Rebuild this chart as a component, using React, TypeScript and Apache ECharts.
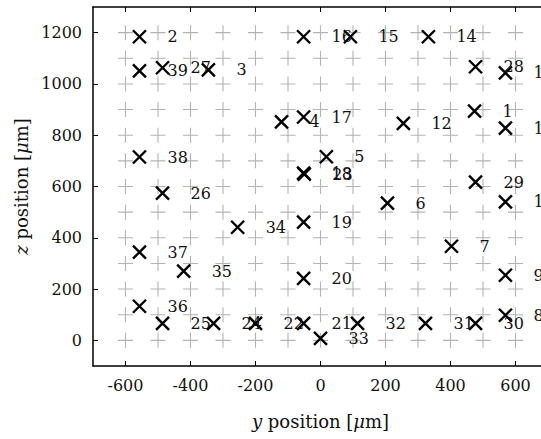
import React, { useEffect, useRef } from "react";
import * as echarts from "echarts";

// Reference lattice of the probe (grey "+" marks), in µm
const latticeY = [-600, -500, -400, -300, -200, -100, 0, 100, 200, 300, 400, 500, 600];
const latticeZ = [0, 100, 200, 300, 400, 500, 600, 700, 800, 900, 1000, 1100, 1200];

// Recording sites: id, y position and z position (µm)
const siteIds = [
  1, 2, 3, 4, 5, 6, 7, 8, 9, 10, 11, 12, 13, 14, 15, 16, 17, 18, 19, 20,
  21, 22, 23, 24, 25, 26, 27, 28, 29, 30, 31, 32, 33, 34, 35, 36, 37, 38, 39,
];
const siteY = [
  474, -557, -345, -120, 18, 206, 403, 569, 569, 569, 569, 255, 569, 332, 92, -52, -52, -52, -52, -52,
  -52, -200, -50, -329, -486, -486, -486, 477, 477, 477, 323, 114, 0, -255, -421, -557, -557, -557, -557,
];
const siteZ = [
  894, 1184, 1055, 852, 716, 535, 367, 98, 254, 540, 828, 846, 1043, 1184, 1184, 1184, 871, 652, 461, 242,
  66, 66, 648, 66, 66, 574, 1063, 1067, 617, 66, 66, 66, 8, 441, 270, 133, 344, 715, 1051,
];

const yTicks = [-600, -400, -200, 0, 200, 400, 600];
const zTicks = [0, 200, 400, 600, 800, 1000, 1200];

const FONT = "DejaVu Serif";
const INK = "#111";

export default function App() {
  const ref = useRef<HTMLDivElement>(null);

  useEffect(() => {
    if (!ref.current) return;
    const chart = echarts.init(ref.current, undefined, { renderer: "svg" });

    const lattice: number[][] = [];
    for (const y of latticeY) for (const z of latticeZ) lattice.push([y, z]);

    const sites = siteIds.map((id, i) => [siteY[i], siteZ[i], id]);

    const axisLine = { show: true, onZero: false, lineStyle: { color: "#000", width: 1.5 } };
    const tickStyle = { color: "#000", width: 1 };
    const nameStyle = {
      fontFamily: FONT,
      fontSize: 18,
      color: INK,
      rich: {
        i: { fontFamily: FONT, fontSize: 18, fontStyle: "italic", color: INK },
      },
    };
    const labelStyle = { fontFamily: FONT, fontSize: 16, color: INK };
    const plain = (v: number) => String(v);

    chart.setOption({
      animation: false,
      backgroundColor: "#fff",
      grid: {
        left: 93,
        top: 7,
        width: 455,
        height: 359,
        containLabel: false,
        outerBoundsMode: "none",
      },
      xAxis: [
        {
          type: "value",
          position: "bottom",
          min: -700,
          max: 700,
          axisLine,
          axisTick: { show: true, inside: true, length: 5, customValues: yTicks, lineStyle: tickStyle },
          axisLabel: { customValues: yTicks, margin: 11, formatter: plain, ...labelStyle },
          splitLine: { show: false },
          name: "{i|y} position [{i|μ}m]",
          nameLocation: "middle",
          nameGap: 46,
          nameTextStyle: nameStyle,
        },
        {
          type: "value",
          position: "top",
          min: -700,
          max: 700,
          axisLine,
          axisTick: { show: true, inside: true, length: 5, customValues: yTicks, lineStyle: tickStyle },
          axisLabel: { show: false },
          splitLine: { show: false },
        },
      ],
      yAxis: [
        {
          type: "value",
          position: "left",
          min: -100,
          max: 1300,
          axisLine,
          axisTick: { show: true, inside: true, length: 5, customValues: zTicks, lineStyle: tickStyle },
          axisLabel: { customValues: zTicks, margin: 11, formatter: plain, ...labelStyle },
          splitLine: { show: false },
          name: "{i|z} position [{i|μ}m]",
          nameLocation: "middle",
          nameGap: 62,
          nameTextStyle: nameStyle,
        },
        {
          type: "value",
          position: "right",
          min: -100,
          max: 1300,
          axisLine,
          axisTick: { show: true, inside: true, length: 5, customValues: zTicks, lineStyle: tickStyle },
          axisLabel: { show: false },
          splitLine: { show: false },
        },
      ],
      series: [
        {
          type: "scatter",
          xAxisIndex: 0,
          yAxisIndex: 0,
          silent: true,
          symbol: "path://M0.5,0V1M0,0.5H1",
          symbolSize: 15,
          itemStyle: { color: "none", borderColor: "#b3b3b3", borderWidth: 1.1, opacity: 1 },
          data: lattice,
          z: 1,
        },
        {
          type: "scatter",
          xAxisIndex: 0,
          yAxisIndex: 0,
          symbol: "path://M0,0L1,1M1,0L0,1",
          symbolSize: 13,
          itemStyle: { color: "none", borderColor: "#000", borderWidth: 2.4, opacity: 1 },
          label: {
            show: true,
            position: "right",
            distance: 19,
            formatter: (p: any) => String(p.value[2]),
            ...labelStyle,
          },
          data: sites,
          z: 2,
        },
      ],
    });

    return () => chart.dispose();
  }, []);

  return (
    <div
      ref={ref}
      style={{ position: "fixed", left: 0, top: 0, width: 541, height: 439, background: "#fff" }}
    />
  );
}
